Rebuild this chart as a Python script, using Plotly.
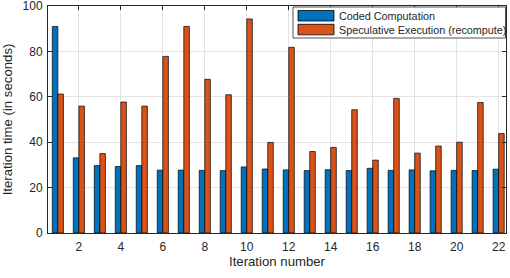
import plotly.graph_objects as go

iterations = list(range(1, 23))
coded = [91.0, 33.1, 29.7, 29.3, 29.7, 27.7, 27.7, 27.6, 27.5, 29.1, 28.2,
         27.8, 27.5, 27.9, 27.5, 28.5, 27.6, 27.8, 27.4, 27.6, 27.5, 28.1]
speculative = [61.2, 55.9, 35.0, 57.7, 55.9, 77.8, 91.0, 67.7, 60.9, 94.3, 39.9,
               81.8, 35.9, 37.7, 54.3, 32.1, 59.3, 35.2, 38.3, 40.0, 57.5, 43.8]
series_names = ["Coded Computation", "Speculative Execution (recompute)"]
colors = ["#0072BD", "#D95319"]
x_ticks = list(range(2, 23, 2))
y_ticks = [0, 20, 40, 60, 80, 100]

FONT = "Liberation Sans, Arial, Helvetica, sans-serif"
AX = "#262626"

fig = go.Figure()
for name, vals, col in zip(series_names, [coded, speculative], colors):
    fig.add_trace(go.Bar(x=iterations, y=vals, name=name, marker_color=col,
                         marker_line_color="#000000", marker_line_width=0.7,
                         showlegend=False))

W, H = 510, 278
L, R, T, B = 48, 4, 6, 45
pw, ph = W - L - R, H - T - B

def xp(px):
    return (px - L) / pw

def yp(py):
    return (H - B - py) / ph

shapes = []
annotations = []
# legend box
shapes.append(dict(type="rect", xref="paper", yref="paper",
                   x0=xp(293), x1=xp(505.5), y0=yp(38), y1=yp(7),
                   fillcolor="white", line=dict(color=AX, width=0.8), layer="above"))
for i, (name, col) in enumerate(zip(series_names, colors)):
    top = 10.5 + i * 13.8
    shapes.append(dict(type="rect", xref="paper", yref="paper",
                       x0=xp(298), x1=xp(334), y0=yp(top + 10.5), y1=yp(top),
                       fillcolor=col, line=dict(color="#000000", width=0.8), layer="above"))
    annotations.append(dict(x=xp(337), y=yp(top + 5.3), xref="paper", yref="paper",
                            text=name, showarrow=False, xanchor="left", yanchor="middle",
                            font=dict(family=FONT, size=10.8, color=AX)))

fig.update_layout(
    width=W, height=H,
    margin=dict(l=L, r=R, t=T, b=B, autoexpand=False),
    paper_bgcolor="white", plot_bgcolor="white",
    barmode="group", bargap=0.47, bargroupgap=0,
    font=dict(family=FONT, size=12, color=AX),
    shapes=shapes, annotations=annotations,
    xaxis=dict(range=[0.53, 22.35], tickvals=x_ticks, ticktext=[str(v) for v in x_ticks],
               automargin=False, ticklabeloverflow="allow",
               showgrid=True, gridcolor="#e3e3e3", gridwidth=1,
               showline=True, linecolor=AX, linewidth=1, mirror="ticks",
               ticks="inside", ticklen=4, tickcolor=AX, zeroline=False,
               tickfont=dict(size=12), ticklabelstandoff=3,
               title=dict(text="Iteration number", font=dict(size=13.2), standoff=2)),
    yaxis=dict(range=[0, 100], tickvals=y_ticks, ticktext=[str(v) for v in y_ticks],
               automargin=False, ticklabeloverflow="allow",
               showgrid=True, gridcolor="#e3e3e3", gridwidth=1,
               showline=True, linecolor=AX, linewidth=1, mirror="ticks",
               ticks="inside", ticklen=4, tickcolor=AX, zeroline=False,
               tickfont=dict(size=12), ticklabelstandoff=2,
               title=dict(text="Iteration time (in seconds)", font=dict(size=13.2), standoff=12)),
)

fig.write_html("out.html", config={"displayModeBar": False},
               post_script="document.body.style.margin='0';document.body.style.padding='0';")
